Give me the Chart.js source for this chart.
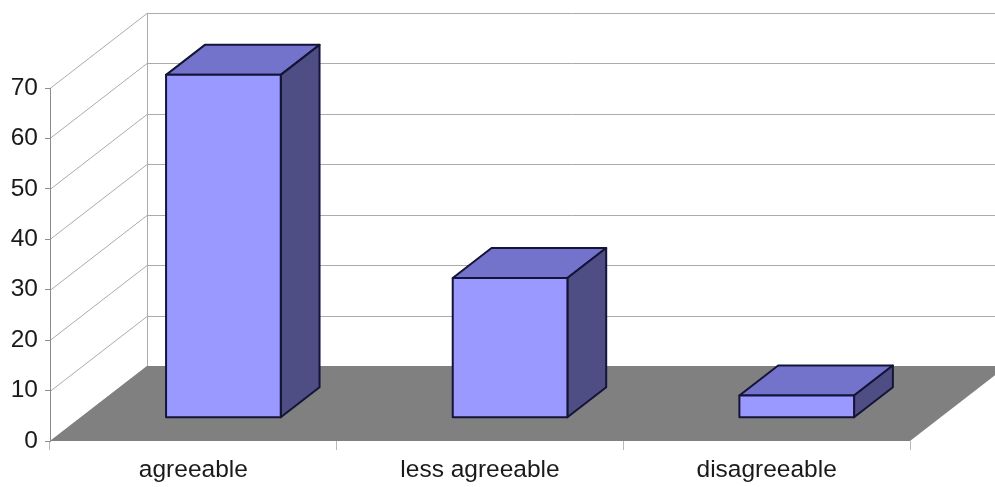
<!DOCTYPE html>
<html>
<head>
<meta charset="utf-8">
<script src="https://cdn.jsdelivr.net/npm/chart.js@4/dist/chart.umd.min.js"></script>
<style>
html,body{margin:0;padding:0;background:#fff;}
canvas{display:block;}
</style>
</head>
<body>
<canvas id="c" width="995" height="487"></canvas>
<script>
const categories = ["agreeable", "less agreeable", "disagreeable"];
const values = [68, 27.7, 4.4];
const yTicks = [0, 10, 20, 30, 40, 50, 60, 70];

// 3D style constants (pixels)
const DEPTH_X = 97, DEPTH_Y = 75;        // floor / wall depth
const BAR_FRONT = 0.31, BAR_DEPTH = 0.40; // fractions of depth
const FRONT = '#9999FF', TOP = '#7373CC', SIDE = '#4E4E84', EDGE = '#141438';
const GRID = '#ababab', FLOOR = '#808080';

const threeD = {
  id: 'threeD',
  beforeDraw(chart) {
    const ctx = chart.ctx, ca = chart.chartArea, ys = chart.scales.y;
    const y0 = ys.getPixelForValue(0), yMax = ys.getPixelForValue(yTicks[yTicks.length - 1]);
    ctx.save();
    ctx.lineWidth = 1;
    ctx.strokeStyle = GRID;
    yTicks.forEach(v => {
      const py = Math.round(ys.getPixelForValue(v)) + 0.5;
      ctx.beginPath();
      ctx.moveTo(ca.left, py);
      ctx.lineTo(ca.left + DEPTH_X, py - DEPTH_Y);
      ctx.lineTo(ca.right + DEPTH_X, py - DEPTH_Y);
      ctx.stroke();
    });
    ctx.beginPath();
    ctx.moveTo(ca.left + DEPTH_X + 0.5, yMax - DEPTH_Y);
    ctx.lineTo(ca.left + DEPTH_X + 0.5, y0 - DEPTH_Y);
    ctx.stroke();
    ctx.fillStyle = FLOOR;
    ctx.beginPath();
    ctx.moveTo(ca.left, y0);
    ctx.lineTo(ca.right, y0);
    ctx.lineTo(ca.right + DEPTH_X, y0 - DEPTH_Y);
    ctx.lineTo(ca.left + DEPTH_X, y0 - DEPTH_Y);
    ctx.closePath();
    ctx.fill();
    ctx.restore();
  },
  afterDatasetsDraw(chart) {
    const ctx = chart.ctx;
    const meta = chart.getDatasetMeta(0);
    const fx = DEPTH_X * BAR_FRONT, fy = DEPTH_Y * BAR_FRONT;
    const dx = DEPTH_X * BAR_DEPTH, dy = DEPTH_Y * BAR_DEPTH;
    ctx.save();
    ctx.lineWidth = 2;
    ctx.lineJoin = 'round';
    ctx.strokeStyle = EDGE;
    meta.data.forEach(el => {
      const p = el.getProps(['x', 'y', 'base', 'width'], true);
      const l = p.x - p.width / 2 + fx, r = p.x + p.width / 2 + fx;
      const t = p.y - fy, b = p.base - fy;
      ctx.fillStyle = TOP;
      ctx.beginPath();
      ctx.moveTo(l, t); ctx.lineTo(l + dx, t - dy); ctx.lineTo(r + dx, t - dy); ctx.lineTo(r, t); ctx.closePath();
      ctx.fill(); ctx.stroke();
      ctx.fillStyle = SIDE;
      ctx.beginPath();
      ctx.moveTo(r, t); ctx.lineTo(r + dx, t - dy); ctx.lineTo(r + dx, b - dy); ctx.lineTo(r, b); ctx.closePath();
      ctx.fill(); ctx.stroke();
      ctx.fillStyle = FRONT;
      ctx.beginPath();
      ctx.rect(l, t, r - l, b - t);
      ctx.fill(); ctx.stroke();
    });
    ctx.restore();
  }
};

new Chart(document.getElementById('c'), {
  type: 'bar',
  data: {
    labels: categories,
    datasets: [{
      data: values,
      backgroundColor: 'rgba(0,0,0,0)',
      borderWidth: 0,
      categoryPercentage: 1,
      barPercentage: 0.4
    }]
  },
  options: {
    responsive: false,
    animation: false,
    layout: { padding: { top: 88, right: 85, left: 0, bottom: 0 } },
    plugins: { legend: { display: false }, tooltip: { enabled: false } },
    scales: {
      x: {
        afterFit(s) { s.height = 46; },
        grid: { offset: true, drawOnChartArea: false, tickLength: 9, color: '#b8b8b8' },
        border: { display: false },
        ticks: { color: '#1a1a1a', padding: 6, font: { family: 'Liberation Sans', size: 24.5 } }
      },
      y: {
        min: 0, max: 70,
        afterFit(s) { s.width = 50; },
        afterBuildTicks(s) { s.ticks = yTicks.map(v => ({ value: v })); },
        grid: { drawOnChartArea: false, tickLength: 5, color: '#8c8c8c' },
        border: { display: true, color: '#8c8c8c', width: 1 },
        ticks: { color: '#1a1a1a', padding: 7, font: { family: 'Liberation Sans', size: 24.5 } }
      }
    }
  },
  plugins: [threeD]
});
</script>
</body>
</html>
